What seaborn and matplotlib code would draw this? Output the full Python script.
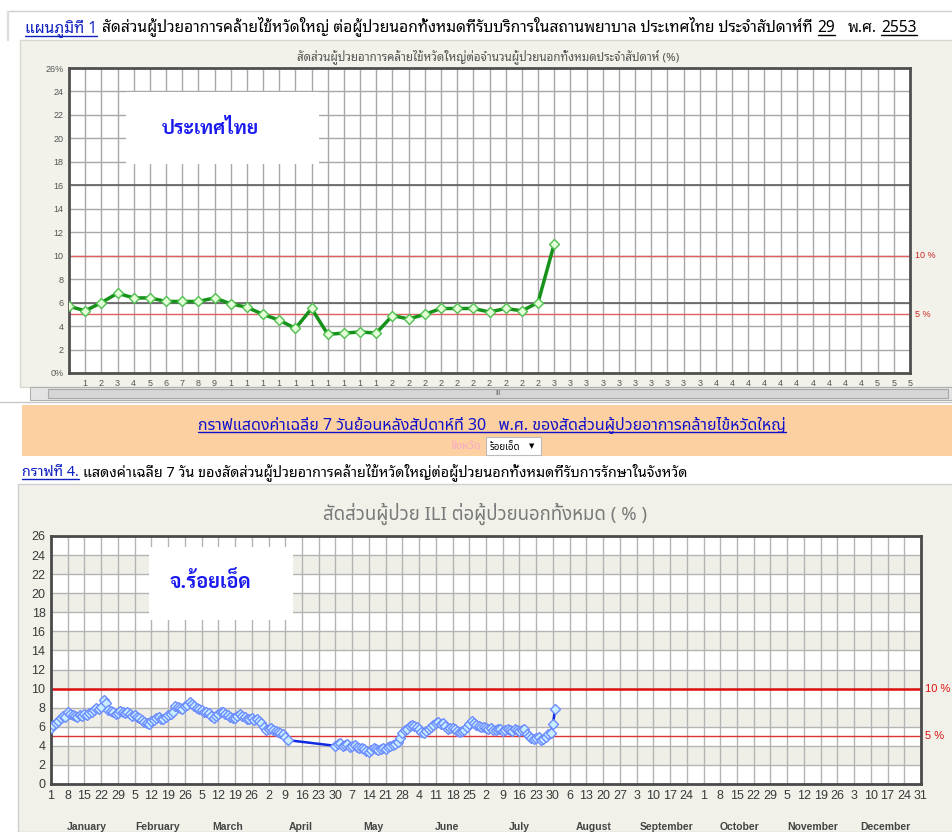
import numpy as np
import pandas as pd
import seaborn as sns
import matplotlib.pyplot as plt
import matplotlib.patches as patches
from matplotlib.lines import Line2D

# ---- data ----
# weekly national ILI share (%), week 0..30, year 2553
th_week = list(range(0, 31))
th_pct = [5.7, 5.3, 6.0, 6.8, 6.4, 6.4, 6.1, 6.1, 6.1, 6.4,
          5.9, 5.6, 5.0, 4.5, 3.8, 5.5, 3.3, 3.4, 3.5, 3.4,
          4.9, 4.6, 5.0, 5.5, 5.5, 5.5, 5.2, 5.5, 5.3, 6.0,
          11.0]
week_labels = [str(w)[0] for w in range(1, 53)]

# Roi Et 7-day average (%), daily, two runs with a gap in April
re1_start = '2010-01-01'
re1_pct = [5.9, 6.2, 6.4, 6.6, 6.9, 7.1, 7.0, 7.5, 7.3, 7.2,
           7.1, 7.0, 7.2, 7.1, 7.3, 7.2, 7.4, 7.6, 7.8, 8.0,
           7.9, 8.1, 8.8, 8.5, 7.8, 7.7, 7.6, 7.3, 7.4, 7.7,
           7.6, 7.4, 7.5, 7.3, 7.1, 7.2, 7.0, 6.9, 6.7, 6.5,
           6.4, 6.3, 6.6, 6.7, 6.9, 7.0, 6.8, 6.8, 7.0, 7.2,
           7.3, 7.6, 8.2, 8.1, 8.0, 7.9, 8.2, 8.3, 8.6, 8.4,
           8.2, 8.0, 7.9, 7.8, 7.5, 7.6, 7.4, 7.1, 6.9, 7.1,
           7.3, 7.5, 7.6, 7.3, 7.2, 7.0, 6.9, 6.9, 7.1, 7.3,
           7.1, 7.0, 6.8, 6.8, 6.9, 6.7, 6.8, 6.6, 6.4, 6.0,
           5.7, 5.8, 5.9, 5.7, 5.6, 5.5, 5.3, 5.2, 4.9, 4.6]
re2_start = '2010-04-30'
re2_pct = [4.0, 4.2, 4.3, 4.0, 4.1, 4.2, 3.9, 4.0, 4.1, 3.9,
           3.8, 3.8, 3.7, 3.5, 3.4, 3.6, 3.8, 3.7, 3.6, 3.7,
           3.8, 3.7, 3.9, 4.0, 4.1, 4.2, 4.4, 4.8, 5.3, 5.7,
           5.8, 6.1, 6.2, 6.1, 6.0, 5.8, 5.5, 5.3, 5.6, 5.8,
           6.0, 6.2, 6.4, 6.5, 6.3, 6.4, 6.1, 5.8, 5.9, 5.9,
           5.8, 5.6, 5.5, 5.6, 5.7, 6.0, 6.3, 6.6, 6.4, 6.2,
           6.1, 6.0, 6.0, 5.9, 5.8, 5.9, 5.7, 5.7, 5.8, 5.8,
           5.6, 5.7, 5.8, 5.7, 5.6, 5.8, 5.7, 5.6, 5.7, 5.8,
           5.2, 5.0, 4.8, 4.7, 4.8, 4.9, 4.6, 4.7, 4.9, 5.2,
           5.3, 6.3, 7.9]
months = ['January', 'February', 'March', 'April', 'May', 'June', 'July',
          'August', 'September', 'October', 'November', 'December']

sns.set_style('white')
LOOP = ['Noto Sans Thai Looped', 'Loma', 'Liberation Sans', 'DejaVu Sans']
PLAIN = ['Noto Sans Thai', 'Liberation Sans', 'DejaVu Sans']
BIG = ['Sarabun', 'Noto Serif Thai', 'DejaVu Sans']
NUM = ['Liberation Sans', 'DejaVu Sans']
plt.rcParams['font.family'] = LOOP

W, H = 953, 832
fig = plt.figure(figsize=(W / 100, H / 100), dpi=100)
fig.patch.set_facecolor('white')
R = fig.canvas.get_renderer()


def box(x0, y0, x1, y1):
    return [x0 / W, 1 - y1 / H, (x1 - x0) / W, (y1 - y0) / H]


def rect(x0, y0, x1, y1, z=-1, **kw):
    r = patches.Rectangle((x0 / W, 1 - y1 / H), (x1 - x0) / W, (y1 - y0) / H,
                          transform=fig.transFigure, zorder=z, **kw)
    fig.add_artist(r)
    return r


def hline(x0, x1, y, z=-1, **kw):
    fig.add_artist(Line2D([x0 / W, x1 / W], [1 - y / H, 1 - y / H],
                          transform=fig.transFigure, zorder=z, **kw))


def txt(x, y, s, **kw):
    return fig.text(x / W, 1 - y / H, s, **kw)


def fit(x, y, s, width, size=10, **kw):
    # draw once, then rescale the font so the text spans `width` pixels
    t = txt(x, y, s, fontsize=size, **kw)
    w = t.get_window_extent(R).width
    t.set_fontsize(size * width / w)
    return t


underlined = []


def runs(x, y, parts, width, size=10):
    # a line of differently styled pieces, scaled to span `width` pixels
    def put(sz):
        out, xx = [], x
        for s, color, weight, ul, gap in parts:
            t = txt(xx, y, s, color=color, fontweight=weight, fontsize=sz, va='baseline')
            xx = t.get_window_extent(R).x1 + gap
            out.append((t, ul))
        return out, xx - x

    out, w = put(size)
    for t, ul in out:
        t.remove()
    out, w = put(size * width / w)
    underlined.extend(t for t, ul in out if ul)


# ---- page chrome ----
hline(8, 953, 11, color='#cfcfcf', lw=1)
rect(7, 11, 8, 40, color='#dddddd')
runs(25, 32, [('แผนภูมิที่ 1', '#1020c0', 'bold', True, 5),
              ('สัดส่วนผู้ป่วยอาการคล้ายไข้หวัดใหญ่ ต่อผู้ป่วยนอกทั้งหมดที่รับบริการในสถานพยาบาล ประเทศไทย ประจำสัปดาห์ที่',
               'black', 'normal', False, 5),
              ('29', 'black', 'normal', True, 12),
              ('พ.ศ.', 'black', 'normal', False, 5),
              ('2553', 'black', 'normal', True, 0)], width=900)

rect(20, 40, 953, 387, facecolor='#f2f2ea', edgecolor='#d8d8d0', lw=1)
fit(488, 57, 'สัดส่วนผู้ป่วยอาการคล้ายไข้หวัดใหญ่ต่อจำนวนผู้ป่วยนอกทั้งหมดประจำสัปดาห์ (%)', 385,
    ha='center', va='center', color='#555555', fontweight='bold')

# scrollbar
rect(30, 387, 953, 400, facecolor='#e4e4e4', edgecolor='#b0b0b0', lw=0.8)
rect(48, 389, 948, 398, facecolor='#d6d6d6', edgecolor='#a8a8a8', lw=0.8)
txt(498, 393.5, 'III', ha='center', va='center', fontsize=5, color='#666666', family=NUM)
hline(0, 953, 402, color='#c8c8c8', lw=1)

# orange banner
rect(22, 405, 953, 456, facecolor='#fdd0a2', edgecolor='none')
t = fit(492, 429, 'กราฟแสดงค่าเฉลี่ย 7 วันย้อนหลังสัปดาห์ที่ 30   พ.ศ. ของสัดส่วนผู้ป่วยอาการคล้ายไข้หวัดใหญ่', 590,
        ha='center', va='baseline', color='#1010c8', family=PLAIN)
underlined.append(t)
txt(481, 449, 'จังหวัด', ha='right', va='baseline', fontsize=8, color='#f7a8c8', family=PLAIN)
rect(486, 437, 541, 455, z=1, facecolor='white', edgecolor='#bbbbbb', lw=0.8)
txt(490, 450, 'ร้อยเอ็ด', va='baseline', fontsize=7, color='black', fontweight='bold', family=PLAIN)
txt(532, 446, '▼', ha='center', va='center', fontsize=5, color='black', family=['DejaVu Sans'])

runs(22, 476, [('กราฟที่ 4.', '#1020c0', 'normal', True, 4),
               ('แสดงค่าเฉลี่ย 7 วัน ของสัดส่วนผู้ป่วยอาการคล้ายไข้หวัดใหญ่ต่อผู้ป่วยนอกทั้งหมดที่รับการรักษาในจังหวัด',
                'black', 'normal', False, 0)], width=668)

rect(18, 484, 953, 832, facecolor='#f1f1ea', edgecolor='#d0d0d0', lw=1)
fit(485, 514, 'สัดส่วนผู้ป่วย ILI ต่อผู้ป่วยนอกทั้งหมด ( % )', 326, ha='center', va='center',
    color='#7a7a7a', family=PLAIN)

# ---- top chart: Thailand weekly ----
ax1 = fig.add_axes(box(69, 68, 910, 373))
ax1.set_facecolor('white')
ax1.grid(True, color='#a8a8a8', lw=1)
ax1.set_axisbelow(True)
for yy in (6, 16):
    ax1.axhline(yy, color='#606060', lw=1.2, zorder=1)
ax1.axhline(10, color='#e06060', lw=1, zorder=2)
ax1.axhline(5, color='#e06060', lw=1, zorder=2)
sns.lineplot(x=th_week, y=th_pct, ax=ax1, color='#16921a', lw=2.5, marker='D',
             markersize=5.5, markerfacecolor='#e2ffd8', markeredgecolor='#50c050',
             markeredgewidth=1, zorder=5)
ax1.set_xlim(0, 52)
ax1.set_ylim(0, 26)
ax1.set_xticks(range(1, 53))
ax1.set_xticklabels(week_labels)
ax1.set_yticks(range(0, 27, 2))
ax1.set_yticklabels(['0%'] + [str(v) for v in range(2, 25, 2)] + ['26%'])
ax1.tick_params(length=0, labelsize=6.5, colors='#555555', pad=4)
for lab in ax1.get_xticklabels() + ax1.get_yticklabels():
    lab.set_family(NUM)
for sp in ax1.spines.values():
    sp.set_color('#505050')
    sp.set_linewidth(2)
ax1.set(xlabel=None, ylabel=None)
for val, s in ((10, '10 %'), (5, '5 %')):
    ax1.text(1.006, val, s, transform=ax1.get_yaxis_transform(), va='center',
             fontsize=6.5, color='#cc2222', family=NUM)

rect(126, 92, 319, 164, z=5, facecolor='white', edgecolor='none')
fit(210, 129, 'ประเทศไทย', 97, size=16, ha='center', va='center', color='#1a1aee',
    fontweight='bold', family=BIG, zorder=6)

# ---- bottom chart: Roi Et daily 7-day average ----
d1 = pd.date_range(re1_start, periods=len(re1_pct))
d2 = pd.date_range(re2_start, periods=len(re2_pct))
re_df = pd.DataFrame({'day': np.r_[d1.dayofyear - 1, d2.dayofyear - 1],
                      'pct': re1_pct + re2_pct})

ax2 = fig.add_axes(box(51, 536, 921, 784))
ax2.set_facecolor('white')
for k in range(1, 13, 2):
    ax2.axhspan(2 * k, 2 * k + 2, color='#efefe8', lw=0, zorder=0)
ax2.grid(True, color='#b4b4b4', lw=1)
ax2.set_axisbelow(True)
ax2.axhline(10, color='#dd1111', lw=1.8, zorder=2)
ax2.axhline(5, color='#dd3333', lw=1, zorder=2)
sns.lineplot(data=re_df, x='day', y='pct', ax=ax2, color='#1028e0', lw=1.8, marker='D',
             markersize=5.5, markerfacecolor='#c8eeff', markeredgecolor='#6d8cff',
             markeredgewidth=1, zorder=5)
tick_dates = pd.date_range('2010-01-01', periods=53, freq='7D')
ax2.set_xticks(tick_dates.dayofyear - 1)
ax2.set_xticklabels([str(d) for d in tick_dates.day])
ax2.set_xlim(0, 364)
ax2.set_ylim(0, 26)
ax2.set_yticks(range(0, 27, 2))
ax2.tick_params(length=0, labelsize=9, colors='#3a3a3a', pad=4)
for lab in ax2.get_xticklabels() + ax2.get_yticklabels():
    lab.set_family(NUM)
for sp in ax2.spines.values():
    sp.set_color('#4a4a4a')
    sp.set_linewidth(2)
ax2.set(xlabel=None, ylabel=None)
for val, s in ((10, '10 %'), (5, '5 %')):
    ax2.text(1.005, val, s, transform=ax2.get_yaxis_transform(), va='center',
             fontsize=8, color='#dd1111', family=NUM)
# month names sit just above the bottom edge of the page
m_start = pd.date_range('2010-01-01', periods=12, freq='MS')
m_end = pd.date_range('2010-01-31', periods=12, freq='ME')
for name, a, b in zip(months, m_start.dayofyear - 1, m_end.dayofyear - 1):
    ax2.text((a + b) / 2, (784 - 830) / 248, name, transform=ax2.get_xaxis_transform(),
             ha='center', va='baseline', fontsize=7.5, color='#444444',
             fontweight='bold', family=NUM)

rect(149, 547, 293, 620, z=5, facecolor='white', edgecolor='none')
fit(210, 581, 'จ.ร้อยเอ็ด', 82, size=15, ha='center', va='center', color='#1a1aee',
    fontweight='bold', family=BIG, zorder=6)

# ---- underlines ----
fig.canvas.draw()
for t in underlined:
    bb = t.get_window_extent(R)
    yb = bb.y0 + 1
    fig.add_artist(Line2D([bb.x0 / W, bb.x1 / W], [yb / H, yb / H], transform=fig.transFigure,
                          color=t.get_color(), lw=1, zorder=7))

fig.savefig('out.png', dpi=100)
